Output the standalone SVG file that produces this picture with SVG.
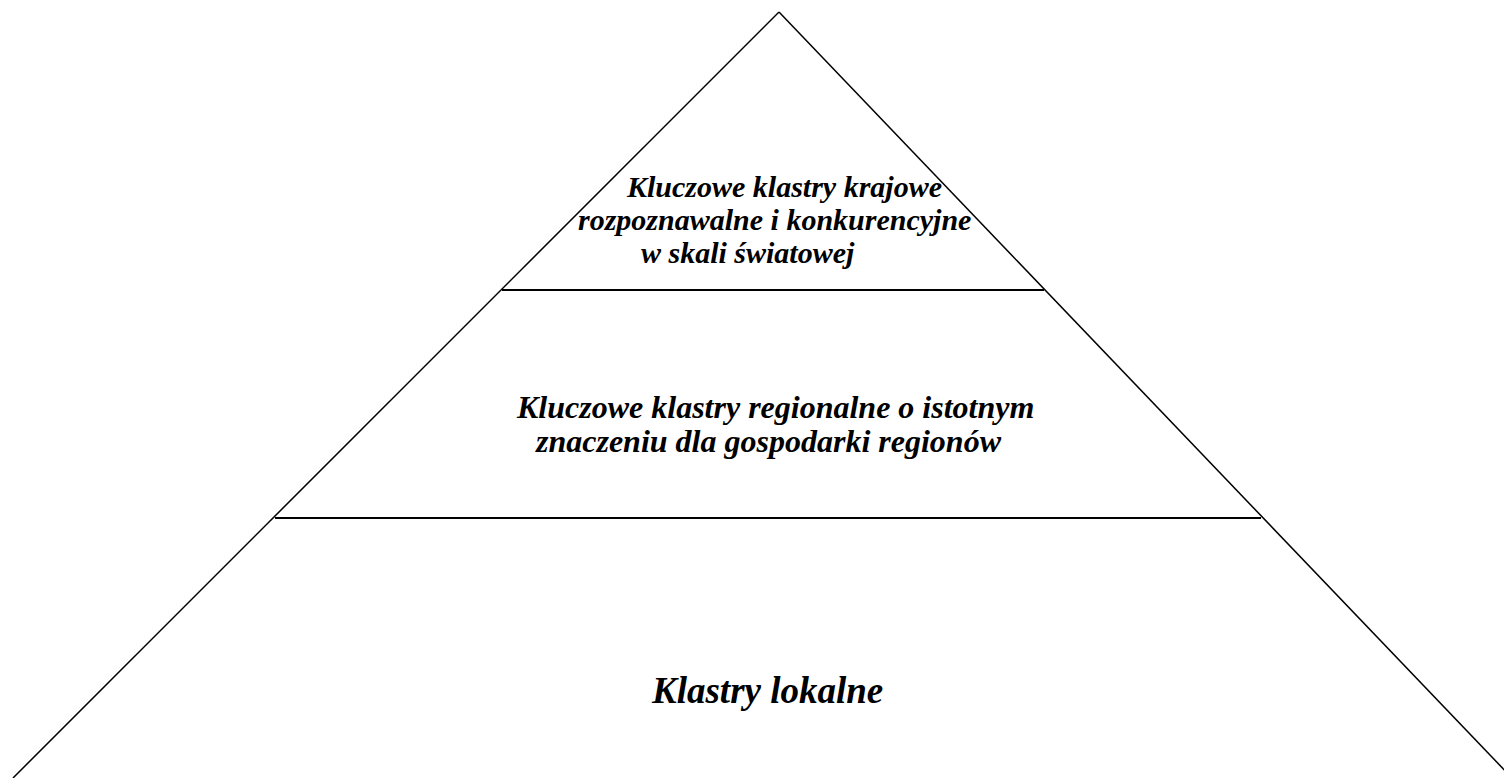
<svg xmlns="http://www.w3.org/2000/svg" width="1504" height="778" viewBox="0 0 1504 778">
<style>
.edge{stroke:#000;stroke-width:1.5;fill:none}
.tier{stroke:#000;stroke-width:2;fill:none}
.lbl{font-family:"Liberation Serif","Times New Roman",serif;font-weight:bold;font-style:italic;fill:#000}
</style>
<rect width="1504" height="778" fill="#fff"/>
<g id="connectors">
<line class="edge" x1="779" y1="12" x2="13" y2="778"/>
<line class="edge" x1="779" y1="12" x2="1512" y2="778"/>
<line class="tier" x1="502" y1="290" x2="1044" y2="290"/>
<line class="tier" x1="275" y1="518" x2="1261" y2="518"/>
</g>
<g id="tier-top">
<text class="lbl" font-size="30" x="627" y="197">Kluczowe klastry krajowe</text>
<text class="lbl" font-size="30" x="578" y="230">rozpoznawalne i konkurencyjne</text>
<text class="lbl" font-size="30" x="641" y="263">w skali światowej</text>
</g>
<g id="tier-middle">
<text class="lbl" font-size="32" x="517" y="418">Kluczowe klastry regionalne o istotnym</text>
<text class="lbl" font-size="32" x="536" y="452">znaczeniu dla gospodarki regionów</text>
</g>
<g id="tier-bottom">
<text class="lbl" font-size="37" x="652" y="703">Klastry lokalne</text>
</g>
</svg>
